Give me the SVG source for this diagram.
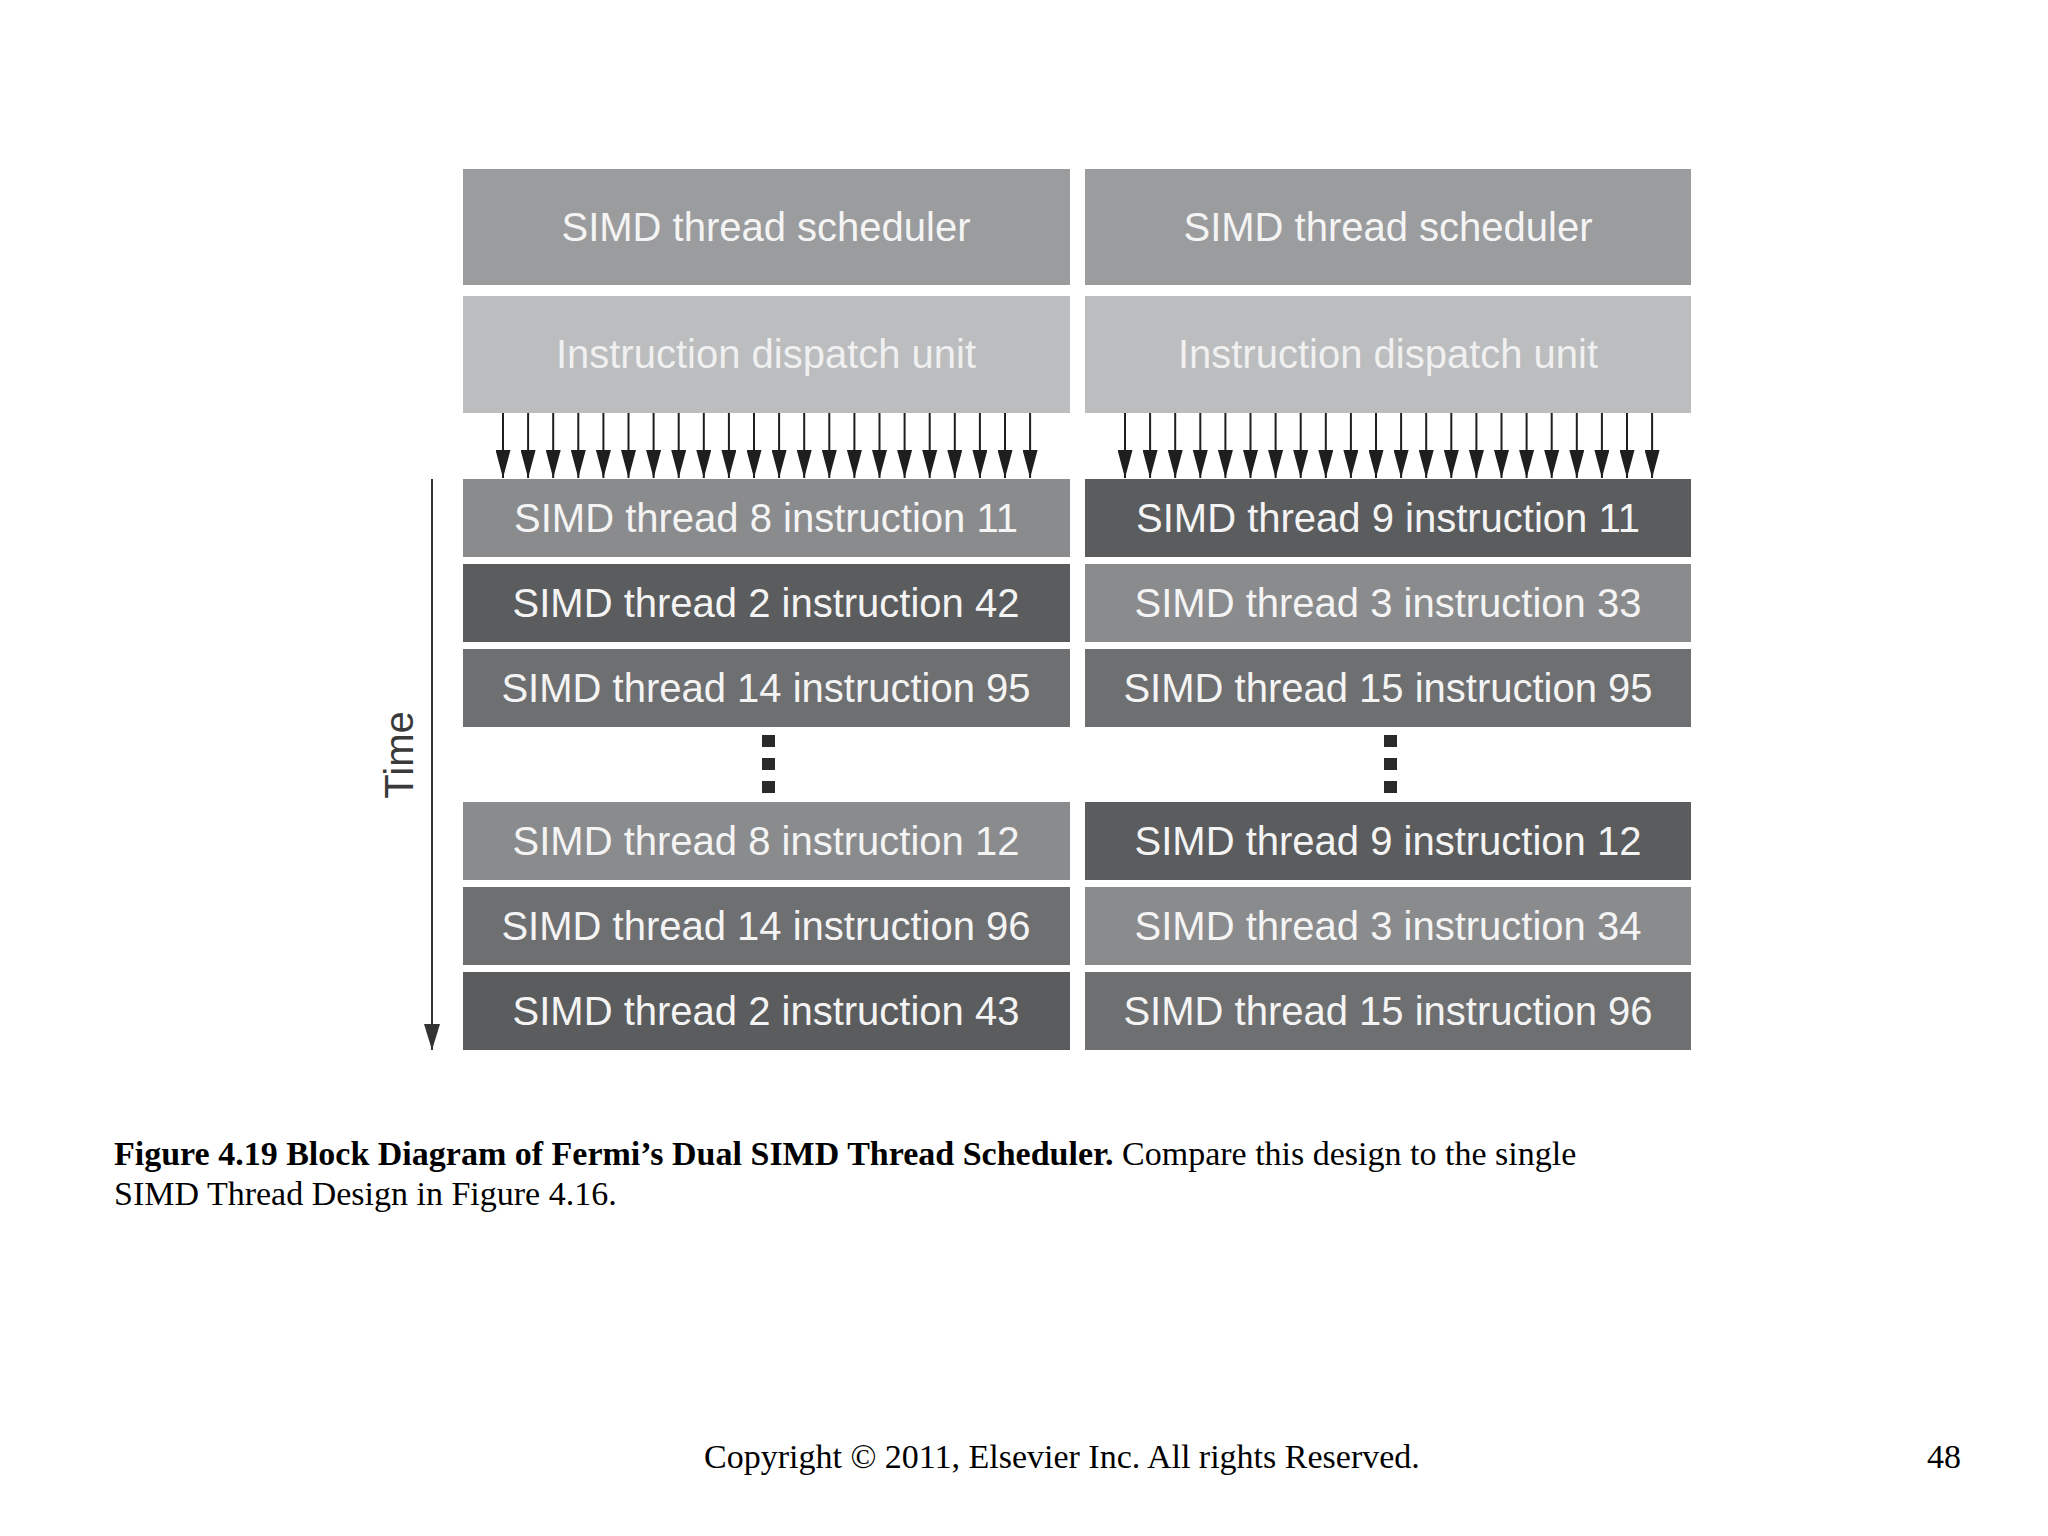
<svg xmlns="http://www.w3.org/2000/svg" width="2048" height="1536" viewBox="0 0 2048 1536">
  <defs>
    <style>
      .lbl { font-family: "Liberation Sans", Arial, Helvetica, sans-serif; font-size: 40px; fill: #f4f4f4; text-anchor: middle; }
      .sched { fill: #9b9c9e; }
      .disp { fill: #bcbdbf; }
      .med { fill: #8a8b8d; }
      .mid { fill: #6e6f71; }
      .dark { fill: #5b5c5e; }
      .arr { stroke: #1e1e1e; stroke-width: 2; fill: none; marker-end: url(#head); }
      .dot { fill: #2a2a2a; }
      .cap { font-family: "Liberation Serif", "Times New Roman", serif; font-size: 34px; fill: #000; }
    </style>
    <marker id="head" markerUnits="userSpaceOnUse" markerWidth="28" markerHeight="15" refX="28" refY="7.5" orient="auto" viewBox="0 0 28 15">
      <path d="M0,0 L28,7.5 L0,15 Z" fill="#1e1e1e"/>
    </marker>
    <marker id="timehead" markerUnits="userSpaceOnUse" markerWidth="26" markerHeight="16" refX="26" refY="8" orient="auto" viewBox="0 0 26 16">
      <path d="M0,0 L26,8 L0,16 Z" fill="#333"/>
    </marker>
  </defs>
  <rect width="2048" height="1536" fill="#ffffff"/>

  <!-- Left column -->
  <g id="left-scheduler"><rect class="sched" x="463" y="169" width="607" height="116"/><text class="lbl" x="766" y="241">SIMD thread scheduler</text></g>
  <g id="left-dispatch"><rect class="disp" x="463" y="296" width="607" height="117"/><text class="lbl" x="766" y="368" fill-opacity="0.95">Instruction dispatch unit</text></g>
  <g id="left-r1"><rect class="med" x="463" y="479" width="607" height="78"/><text class="lbl" x="766" y="532">SIMD thread 8 instruction 11</text></g>
  <g id="left-r2"><rect class="dark" x="463" y="564" width="607" height="78"/><text class="lbl" x="766" y="617">SIMD thread 2 instruction 42</text></g>
  <g id="left-r3"><rect class="mid" x="463" y="649" width="607" height="78"/><text class="lbl" x="766" y="702">SIMD thread 14 instruction 95</text></g>
  <g id="left-r4"><rect class="med" x="463" y="802" width="607" height="78"/><text class="lbl" x="766" y="855">SIMD thread 8 instruction 12</text></g>
  <g id="left-r5"><rect class="mid" x="463" y="887" width="607" height="78"/><text class="lbl" x="766" y="940">SIMD thread 14 instruction 96</text></g>
  <g id="left-r6"><rect class="dark" x="463" y="972" width="607" height="78"/><text class="lbl" x="766" y="1025">SIMD thread 2 instruction 43</text></g>
  <g id="left-dots"><rect class="dot" x="762" y="735" width="13" height="12"/><rect class="dot" x="762" y="758" width="13" height="12"/><rect class="dot" x="762" y="781" width="13" height="12"/></g>

  <!-- Right column -->
  <g id="right-scheduler"><rect class="sched" x="1085" y="169" width="606" height="116"/><text class="lbl" x="1388" y="241">SIMD thread scheduler</text></g>
  <g id="right-dispatch"><rect class="disp" x="1085" y="296" width="606" height="117"/><text class="lbl" x="1388" y="368" fill-opacity="0.95">Instruction dispatch unit</text></g>
  <g id="right-r1"><rect class="dark" x="1085" y="479" width="606" height="78"/><text class="lbl" x="1388" y="532">SIMD thread 9 instruction 11</text></g>
  <g id="right-r2"><rect class="med" x="1085" y="564" width="606" height="78"/><text class="lbl" x="1388" y="617">SIMD thread 3 instruction 33</text></g>
  <g id="right-r3"><rect class="mid" x="1085" y="649" width="606" height="78"/><text class="lbl" x="1388" y="702">SIMD thread 15 instruction 95</text></g>
  <g id="right-r4"><rect class="dark" x="1085" y="802" width="606" height="78"/><text class="lbl" x="1388" y="855">SIMD thread 9 instruction 12</text></g>
  <g id="right-r5"><rect class="med" x="1085" y="887" width="606" height="78"/><text class="lbl" x="1388" y="940">SIMD thread 3 instruction 34</text></g>
  <g id="right-r6"><rect class="mid" x="1085" y="972" width="606" height="78"/><text class="lbl" x="1388" y="1025">SIMD thread 15 instruction 96</text></g>
  <g id="right-dots"><rect class="dot" x="1384" y="735" width="13" height="12"/><rect class="dot" x="1384" y="758" width="13" height="12"/><rect class="dot" x="1384" y="781" width="13" height="12"/></g>

  <!-- Connectors -->
  <g id="connectors">
    <line class="arr" x1="503" y1="413" x2="503" y2="478"/>
    <line class="arr" x1="528.1" y1="413" x2="528.1" y2="478"/>
    <line class="arr" x1="553.2" y1="413" x2="553.2" y2="478"/>
    <line class="arr" x1="578.3" y1="413" x2="578.3" y2="478"/>
    <line class="arr" x1="603.4" y1="413" x2="603.4" y2="478"/>
    <line class="arr" x1="628.5" y1="413" x2="628.5" y2="478"/>
    <line class="arr" x1="653.6" y1="413" x2="653.6" y2="478"/>
    <line class="arr" x1="678.7" y1="413" x2="678.7" y2="478"/>
    <line class="arr" x1="703.8" y1="413" x2="703.8" y2="478"/>
    <line class="arr" x1="728.9" y1="413" x2="728.9" y2="478"/>
    <line class="arr" x1="754" y1="413" x2="754" y2="478"/>
    <line class="arr" x1="779.1" y1="413" x2="779.1" y2="478"/>
    <line class="arr" x1="804.2" y1="413" x2="804.2" y2="478"/>
    <line class="arr" x1="829.3" y1="413" x2="829.3" y2="478"/>
    <line class="arr" x1="854.4" y1="413" x2="854.4" y2="478"/>
    <line class="arr" x1="879.5" y1="413" x2="879.5" y2="478"/>
    <line class="arr" x1="904.6" y1="413" x2="904.6" y2="478"/>
    <line class="arr" x1="929.7" y1="413" x2="929.7" y2="478"/>
    <line class="arr" x1="954.8" y1="413" x2="954.8" y2="478"/>
    <line class="arr" x1="979.9" y1="413" x2="979.9" y2="478"/>
    <line class="arr" x1="1005" y1="413" x2="1005" y2="478"/>
    <line class="arr" x1="1030.1" y1="413" x2="1030.1" y2="478"/>
    <line class="arr" x1="1125" y1="413" x2="1125" y2="478"/>
    <line class="arr" x1="1150.1" y1="413" x2="1150.1" y2="478"/>
    <line class="arr" x1="1175.2" y1="413" x2="1175.2" y2="478"/>
    <line class="arr" x1="1200.3" y1="413" x2="1200.3" y2="478"/>
    <line class="arr" x1="1225.4" y1="413" x2="1225.4" y2="478"/>
    <line class="arr" x1="1250.5" y1="413" x2="1250.5" y2="478"/>
    <line class="arr" x1="1275.6" y1="413" x2="1275.6" y2="478"/>
    <line class="arr" x1="1300.7" y1="413" x2="1300.7" y2="478"/>
    <line class="arr" x1="1325.8" y1="413" x2="1325.8" y2="478"/>
    <line class="arr" x1="1350.9" y1="413" x2="1350.9" y2="478"/>
    <line class="arr" x1="1376" y1="413" x2="1376" y2="478"/>
    <line class="arr" x1="1401.1" y1="413" x2="1401.1" y2="478"/>
    <line class="arr" x1="1426.2" y1="413" x2="1426.2" y2="478"/>
    <line class="arr" x1="1451.3" y1="413" x2="1451.3" y2="478"/>
    <line class="arr" x1="1476.4" y1="413" x2="1476.4" y2="478"/>
    <line class="arr" x1="1501.5" y1="413" x2="1501.5" y2="478"/>
    <line class="arr" x1="1526.6" y1="413" x2="1526.6" y2="478"/>
    <line class="arr" x1="1551.7" y1="413" x2="1551.7" y2="478"/>
    <line class="arr" x1="1576.8" y1="413" x2="1576.8" y2="478"/>
    <line class="arr" x1="1601.9" y1="413" x2="1601.9" y2="478"/>
    <line class="arr" x1="1627" y1="413" x2="1627" y2="478"/>
    <line class="arr" x1="1652.1" y1="413" x2="1652.1" y2="478"/>
    <line x1="432" y1="479" x2="432" y2="1050" stroke="#333" stroke-width="2" marker-end="url(#timehead)"/>
  </g>

  <text id="time-label" transform="translate(413,755) rotate(-90)" font-family="Liberation Sans, Arial, sans-serif" font-size="40" fill="#3a3a3a" text-anchor="middle">Time</text>

  <text class="cap" x="114" y="1165"><tspan font-weight="bold">Figure 4.19 Block Diagram of Fermi’s Dual SIMD Thread Scheduler.</tspan> Compare this design to the single</text>
  <text class="cap" x="114" y="1205">SIMD Thread Design in Figure 4.16.</text>
  <text class="cap" x="704" y="1468">Copyright © 2011, Elsevier Inc. All rights Reserved.</text>
  <text class="cap" x="1927" y="1468">48</text>
</svg>
